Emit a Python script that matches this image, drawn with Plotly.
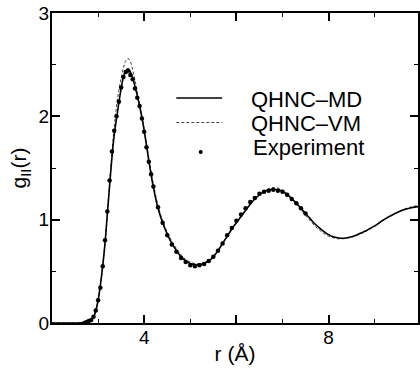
import plotly.graph_objects as go

# QHNC-MD (solid)
r_md = [2.0, 2.5, 2.7, 2.8, 2.9, 2.95, 3.0, 3.05, 3.1, 3.15, 3.2, 3.25, 3.3, 3.35, 3.4, 3.45,
        3.5, 3.55, 3.6, 3.65, 3.7, 3.75, 3.8, 3.85, 3.9, 3.95, 4.0, 4.05, 4.1, 4.2, 4.3, 4.4,
        4.5, 4.6, 4.7, 4.8, 4.9, 5.0, 5.1, 5.2, 5.3, 5.4, 5.5, 5.6, 5.7, 5.8, 5.9, 6.0,
        6.1, 6.2, 6.3, 6.4, 6.5, 6.6, 6.7, 6.8, 6.9, 7.0, 7.1, 7.2, 7.3, 7.4, 7.5, 7.6,
        7.7, 7.8, 7.9, 8.0, 8.1, 8.2, 8.3, 8.4, 8.5, 8.6, 8.7, 8.8, 8.9, 9.0, 9.2, 9.4,
        9.6, 9.8, 10.0]
g_md = [0.0, 0.0, 0.005, 0.02, 0.06, 0.12, 0.22, 0.37, 0.55, 0.77, 1.05, 1.33, 1.6, 1.82, 1.98, 2.13,
        2.27, 2.38, 2.44, 2.46, 2.43, 2.37, 2.29, 2.2, 2.1, 1.99, 1.86, 1.72, 1.57, 1.31, 1.11, 0.97,
        0.86, 0.77, 0.7, 0.64, 0.6, 0.575, 0.565, 0.565, 0.58, 0.6, 0.64, 0.7, 0.77, 0.84, 0.91, 0.97,
        1.03, 1.09, 1.15, 1.2, 1.24, 1.27, 1.29, 1.295, 1.29, 1.275, 1.245, 1.205, 1.16, 1.11, 1.06, 1.01,
        0.96, 0.92, 0.885, 0.855, 0.835, 0.825, 0.82, 0.825, 0.835, 0.85, 0.87, 0.89, 0.915, 0.94, 1.0, 1.05,
        1.09, 1.115, 1.13]

# QHNC-VM (dashed)
r_vm = [2.0, 2.5, 2.7, 2.8, 2.9, 2.95, 3.0, 3.05, 3.1, 3.15, 3.2, 3.25, 3.3, 3.35, 3.4, 3.45,
        3.5, 3.55, 3.6, 3.65, 3.7, 3.75, 3.8, 3.85, 3.9, 3.95, 4.0, 4.05, 4.1, 4.2, 4.3, 4.4,
        4.5, 4.6, 4.7, 4.8, 4.9, 5.0, 5.1, 5.2, 5.3, 5.4, 5.5, 5.6, 5.7, 5.8, 5.9, 6.0,
        6.1, 6.2, 6.3, 6.4, 6.5, 6.6, 6.7, 6.8, 6.9, 7.0, 7.1, 7.2, 7.3, 7.4, 7.5, 7.6,
        7.7, 7.8, 7.9, 8.0, 8.1, 8.2, 8.3, 8.4, 8.5, 8.6, 8.7, 8.8, 8.9, 9.0, 9.2, 9.4,
        9.6, 9.8, 10.0]
g_vm = [0.0, 0.0, 0.004, 0.018, 0.055, 0.11, 0.21, 0.36, 0.55, 0.78, 1.06, 1.36, 1.65, 1.9, 2.1, 2.25,
        2.37, 2.47, 2.54, 2.56, 2.53, 2.45, 2.35, 2.24, 2.12, 2.0, 1.88, 1.74, 1.6, 1.34, 1.14, 0.99,
        0.88, 0.79, 0.72, 0.66, 0.615, 0.59, 0.575, 0.575, 0.585, 0.605, 0.645, 0.7, 0.765, 0.835, 0.905, 0.97,
        1.03, 1.09, 1.15, 1.2, 1.245, 1.275, 1.3, 1.31, 1.305, 1.285, 1.25, 1.2, 1.15, 1.095, 1.04, 0.99,
        0.94, 0.9, 0.865, 0.84, 0.825, 0.815, 0.815, 0.82, 0.83, 0.845, 0.865, 0.885, 0.91, 0.935, 0.995, 1.05,
        1.095, 1.125, 1.14]

# Experiment (dots)
r_exp = [2.7, 2.75, 2.8, 2.85, 2.9, 2.95, 3.0, 3.05, 3.1, 3.15, 3.2, 3.25, 3.3, 3.35, 3.4, 3.45,
         3.5, 3.55, 3.6, 3.65, 3.7, 3.75, 3.8, 3.85, 3.9, 3.95, 4.0, 4.05, 4.1, 4.15, 4.2, 4.3,
         4.4, 4.5, 4.6, 4.7, 4.8, 4.9, 5.0, 5.1, 5.2, 5.3, 5.4, 5.5, 5.6, 5.7, 5.8, 5.9,
         6.0, 6.1, 6.2, 6.3, 6.4, 6.5, 6.6, 6.7, 6.8, 6.9, 7.0, 7.1, 7.2, 7.3, 7.4, 7.5]
g_exp = [0.0, 0.01, 0.02, 0.03, 0.06, 0.12, 0.22, 0.34, 0.55, 0.8, 1.08, 1.38, 1.66, 1.86, 2.0, 2.14,
         2.28, 2.38, 2.43, 2.44, 2.4, 2.36, 2.27, 2.18, 2.1, 1.98, 1.85, 1.7, 1.56, 1.44, 1.32, 1.12,
         0.97, 0.85, 0.76, 0.69, 0.63, 0.59, 0.56, 0.55, 0.56, 0.57, 0.6, 0.64, 0.7, 0.77, 0.85, 0.92,
         0.99, 1.05, 1.11, 1.17, 1.21, 1.25, 1.27, 1.28, 1.29, 1.28, 1.27, 1.24, 1.2, 1.16, 1.11, 1.06]

legend_labels = ["QHNC\u2013MD", "QHNC\u2013VM", "Experiment"]
x_labelled = [4, 8]
x_unlabelled = [6]
x_minor = [3, 5, 7, 9]
y_major = [0, 1, 2, 3]
y_minor = [0.5, 1.5, 2.5]

FONT = "Liberation Sans, Arial, sans-serif"
XRANGE = [2, 2 + 368 / 46.35]

fig = go.Figure()
fig.add_trace(go.Scatter(x=r_vm, y=g_vm, mode="lines", line=dict(color="#444", width=1, dash="3px,2px", shape="spline"),
                         showlegend=False, name=legend_labels[1]))
fig.add_trace(go.Scatter(x=r_md, y=g_md, mode="lines", line=dict(color="black", width=1.6, shape="spline"),
                         showlegend=False, name=legend_labels[0]))
fig.add_trace(go.Scatter(x=r_exp, y=g_exp, mode="markers", marker=dict(color="black", size=4.5),
                         showlegend=False, name=legend_labels[2]))
# same MD curve also bound to the overlay axis that carries the unlabelled tick at 6
fig.add_trace(go.Scatter(x=r_md, y=g_md, mode="lines", xaxis="x2", line=dict(color="rgba(0,0,0,0)", width=0),
                         showlegend=False, hoverinfo="skip"))

W, H = 420, 370
L, T, B = 52, 13, 47
pw, ph = W - L, H - T - B

def px(x):
    return (x - L) / pw

def py(y):
    return (H - B - y) / ph

shapes = [
    dict(type="line", xref="paper", yref="paper", x0=px(177), x1=px(223), y0=py(98), y1=py(98),
         line=dict(color="black", width=1.6)),
    dict(type="line", xref="paper", yref="paper", x0=px(177), x1=px(223), y0=py(122.5), y1=py(122.5),
         line=dict(color="#444", width=1, dash="3px,2px")),
    dict(type="circle", xref="paper", yref="paper", x0=px(199.5), x1=px(203.5), y0=py(150), y1=py(154),
         fillcolor="black", line=dict(color="black", width=0)),
]
annotations = []
for lab, yy, xx in zip(legend_labels, [99, 124, 148], [250, 250, 252]):
    annotations.append(dict(text=lab, xref="paper", yref="paper", x=px(xx), y=py(yy), xanchor="left",
                            yanchor="middle", showarrow=False, font=dict(family=FONT, size=22, color="black")))

fig.update_layout(
    width=W, height=H, margin=dict(l=L, r=0, t=T, b=B),
    paper_bgcolor="white", plot_bgcolor="white",
    font=dict(family=FONT, color="black"),
    shapes=shapes, annotations=annotations,
    xaxis=dict(range=XRANGE, showgrid=False, zeroline=False, showline=True, linecolor="black",
               linewidth=2, mirror="ticks", ticks="inside", ticklen=8, tickwidth=1.5, tickcolor="black",
               tickvals=x_labelled, tickfont=dict(size=19), ticklabelstandoff=-4,
               minor=dict(tickvals=x_minor, ticks="inside", ticklen=4, tickwidth=1, tickcolor="black"),
               title=dict(text="r (\u00c5)", font=dict(size=21), standoff=0)),
    xaxis2=dict(range=XRANGE, overlaying="x", anchor="y", side="bottom", showgrid=False, zeroline=False,
                showline=True, linecolor="black", linewidth=2, mirror="ticks", ticks="inside", ticklen=8,
                tickwidth=1.5, tickcolor="black", tickvals=x_unlabelled, showticklabels=False),
    yaxis=dict(range=[0, 3], showgrid=False, zeroline=False, showline=True, linecolor="black",
               linewidth=2, mirror="ticks", ticks="inside", ticklen=8, tickwidth=1.5, tickcolor="black",
               tickvals=y_major, tickfont=dict(size=19), ticklabelstandoff=-3,
               minor=dict(tickvals=y_minor, ticks="inside", ticklen=4, tickwidth=1, tickcolor="black"),
               title=dict(text="g<sub>II</sub>(r)", font=dict(size=21), standoff=6)),
)

fig.write_html("out.html")
